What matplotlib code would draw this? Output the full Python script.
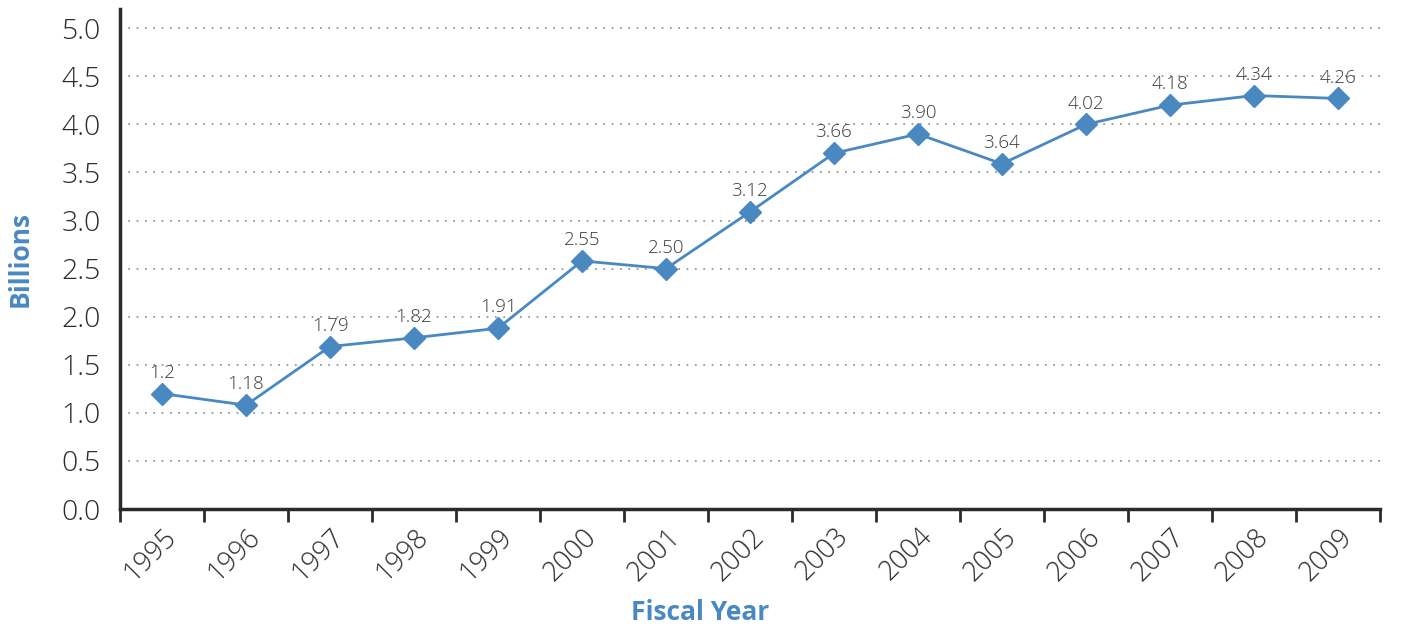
import numpy as np
import matplotlib.pyplot as plt

plt.rcParams['font.family'] = ['Open Sans', 'DejaVu Sans']

years = ["1995", "1996", "1997", "1998", "1999", "2000", "2001", "2002",
         "2003", "2004", "2005", "2006", "2007", "2008", "2009"]
# plotted positions as they appear in the chart
values = [1.20, 1.08, 1.69, 1.78, 1.88, 2.58, 2.50, 3.09,
          3.70, 3.90, 3.59, 4.00, 4.20, 4.30, 4.27]
# printed data labels
labels = ["1.2", "1.18", "1.79", "1.82", "1.91", "2.55", "2.50", "3.12",
          "3.66", "3.90", "3.64", "4.02", "4.18", "4.34", "4.26"]

blue = "#4a88c2"
dark = "#2b2b2b"

fig = plt.figure(figsize=(14.01, 6.28), dpi=100)
ax = fig.add_axes([120/1401, 1 - 509/628, 1260/1401, 500/628])

x = np.arange(len(years))
ax.plot(x, values, color=blue, lw=2, marker="D", markersize=11.5, zorder=3)

for xi, v, lab in zip(x, values, labels):
    ax.annotate(lab, (xi, v), xytext=(0, 8.5), textcoords="offset points",
                ha="center", va="bottom", fontsize=13.5, color="#3a3a3a",
                fontweight="light")

ax.set_xlim(-0.5, len(years) - 0.5)
ax.set_ylim(0, 5.2)
ax.set_yticks(np.arange(0, 5.01, 0.5))
ax.set_yticklabels([f"{t:.1f}" for t in np.arange(0, 5.01, 0.5)], fontweight="light")
ax.yaxis.grid(True, linestyle=(0, (1, 4)), color="#888888", lw=1.2)
ax.set_axisbelow(True)

ax.set_xticks(np.arange(-0.5, len(years), 1))
ax.set_xticklabels([])
ax.set_xticks(x, minor=True)
ax.set_xticklabels(years, minor=True, rotation=45, ha="right", va="top",
                   rotation_mode="anchor", fontsize=19.5, color=dark,
                   fontweight="light")
ax.tick_params(axis="x", which="major", length=9, width=2, color=dark, direction="out")
ax.tick_params(axis="x", which="minor", length=0, pad=10)
ax.tick_params(axis="y", length=0, pad=14, labelsize=20.5, labelcolor=dark)

for s in ["top", "right"]:
    ax.spines[s].set_visible(False)
for s in ["left", "bottom"]:
    ax.spines[s].set_color(dark)
    ax.spines[s].set_linewidth(2.5)

fig.text(700/1401, 1 - 612/628, "Fiscal Year", fontsize=19, fontweight="bold",
         color=blue, ha="center", va="center")
ax.set_ylabel("Billions", fontsize=19, fontweight="bold", color=blue, labelpad=20)

fig.savefig("out.png", dpi=100)
